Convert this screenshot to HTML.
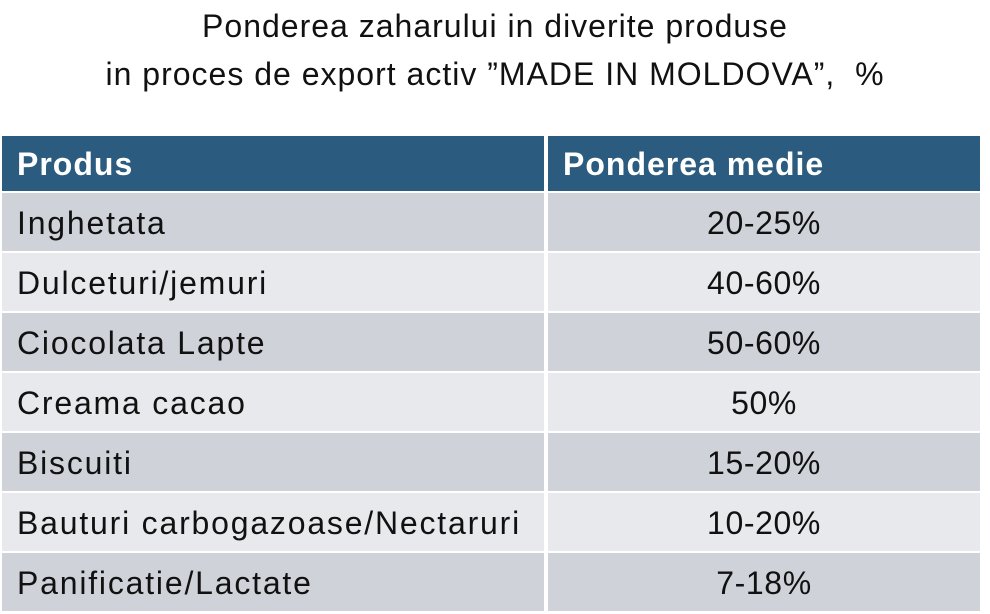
<!DOCTYPE html>
<html><head><style>
body{margin:0;width:990px;height:614px;background:#fff;font-family:"Liberation Sans",sans-serif;position:relative;overflow:hidden}
.t{position:absolute;left:0;width:990px;text-align:center;font-size:32px;letter-spacing:1px;color:#111}
.r{position:absolute;left:2px;width:978px;height:58px}
.c1,.c2{position:absolute;top:0;height:100%;line-height:60px;font-size:32px;letter-spacing:1.8px;color:#111;white-space:nowrap}
.c1{left:0;width:542px;padding-left:15px;box-sizing:border-box}
.c2{left:546px;width:432px;text-align:center;letter-spacing:0.6px}
.h .c1,.h .c2{background:#2B5B7E;color:#fff;font-weight:bold;line-height:56px;letter-spacing:1px}
.h .c2{text-align:left;padding-left:15px;box-sizing:border-box}
.d .c1,.d .c2{background:#CFD3D9}
.l .c1,.l .c2{background:#E8E9EC}
</style></head><body>
<div class="t" style="top:8px">Ponderea zaharului in diverite produse</div>
<div class="t" style="top:56px">in proces de export activ ”MADE IN MOLDOVA”,&nbsp; %</div>
<div class="r h" style="top:136px;height:55px"><div class="c1">Produs</div><div class="c2">Ponderea medie</div></div>
<div class="r d" style="top:193px"><div class="c1">Inghetata</div><div class="c2">20-25%</div></div>
<div class="r l" style="top:253px"><div class="c1">Dulceturi/jemuri</div><div class="c2">40-60%</div></div>
<div class="r d" style="top:313px"><div class="c1">Ciocolata Lapte</div><div class="c2">50-60%</div></div>
<div class="r l" style="top:373px"><div class="c1">Creama cacao</div><div class="c2">50%</div></div>
<div class="r d" style="top:433px"><div class="c1">Biscuiti</div><div class="c2">15-20%</div></div>
<div class="r l" style="top:493px"><div class="c1">Bauturi carbogazoase/Nectaruri</div><div class="c2">10-20%</div></div>
<div class="r d" style="top:553px"><div class="c1">Panificatie/Lactate</div><div class="c2">7-18%</div></div>
</body></html>
